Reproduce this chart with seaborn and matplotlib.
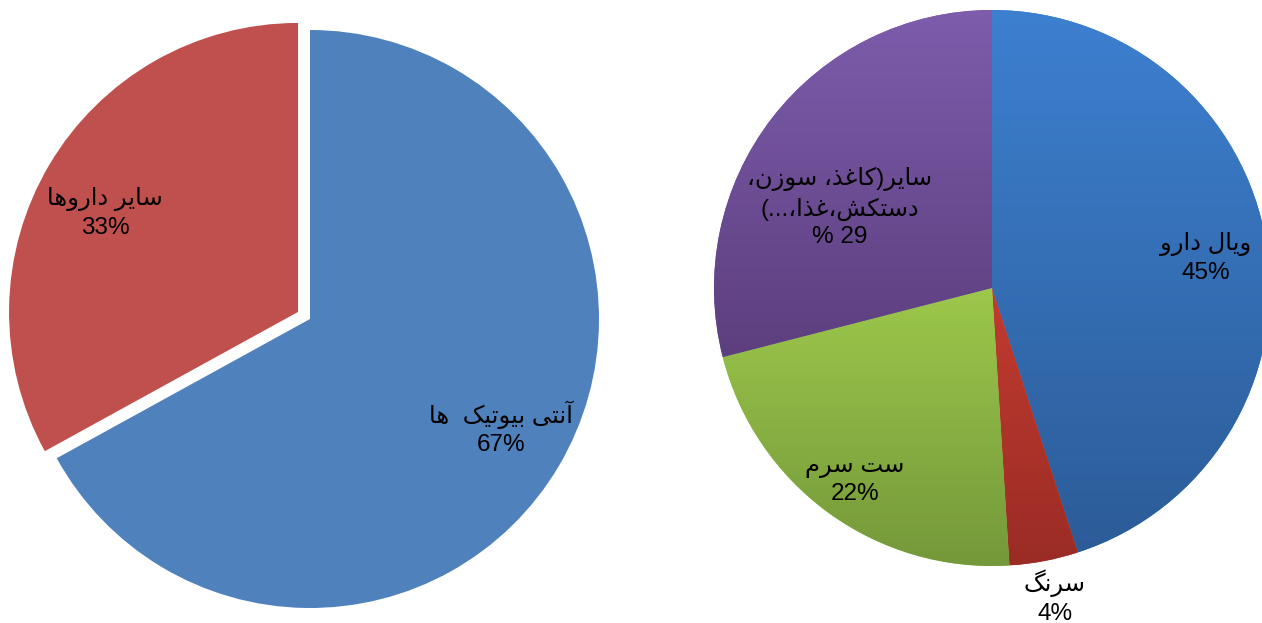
import numpy as np
import matplotlib
matplotlib.use("Agg")
import matplotlib.pyplot as plt
import seaborn as sns
from matplotlib.colors import LinearSegmentedColormap

# ---------------- data ----------------
left_labels = ["آنتی بیوتیک  ها", "سایر داروها"]
left_values = [67, 33]
left_pct = ["67%", "33%"]

right_labels = ["ویال دارو", "سرنگ", "ست سرم", "سایر(کاغذ، سوزن،\nدستکش،غذا،...)"]
right_values = [45, 4, 22, 29]
right_pct = ["45%", "4%", "22%", "% 29"]

# ---------------- styles ----------------
left_colors = ["#4F81BD", "#C0504D"]
left_explode = [0.0, 0.048]
left_label_dist = [0.76, 0.75]
left_label_rot = [0.8, 3.4]

right_top = ["#3D80D0", "#C23B30", "#9CC84B", "#7D5DAC"]
right_bot = ["#2C5C98", "#9A2C25", "#74983A", "#5D3E7E"]
right_label_dist = [0.775, 1.135, 0.85, 0.62]
right_label_rot = [-1.0, 0.7, 0.5, 10.0]

# --------------- simple Persian shaping ----------------
FORMS = {
    'ا': ('\uFE8D', '\uFE8E', None, None),
    'آ': ('\uFE81', '\uFE82', None, None),
    'ب': ('\uFE8F', '\uFE90', '\uFE91', '\uFE92'),
    'ت': ('\uFE95', '\uFE96', '\uFE97', '\uFE98'),
    'د': ('\uFEA9', '\uFEAA', None, None),
    'ذ': ('\uFEAB', '\uFEAC', None, None),
    'ر': ('\uFEAD', '\uFEAE', None, None),
    'ز': ('\uFEAF', '\uFEB0', None, None),
    'س': ('\uFEB1', '\uFEB2', '\uFEB3', '\uFEB4'),
    'ش': ('\uFEB5', '\uFEB6', '\uFEB7', '\uFEB8'),
    'غ': ('\uFECD', '\uFECE', '\uFECF', '\uFED0'),
    'ل': ('\uFEDD', '\uFEDE', '\uFEDF', '\uFEE0'),
    'م': ('\uFEE1', '\uFEE2', '\uFEE3', '\uFEE4'),
    'ن': ('\uFEE5', '\uFEE6', '\uFEE7', '\uFEE8'),
    'ه': ('\uFEE9', '\uFEEA', '\uFEEB', '\uFEEC'),
    'و': ('\uFEED', '\uFEEE', None, None),
    'ی': ('\uFBFC', '\uFBFD', '\uFBFE', '\uFBFF'),
    'ک': ('\uFB8E', '\uFB8F', '\uFB90', '\uFB91'),
    'گ': ('\uFB92', '\uFB93', '\uFB94', '\uFB95'),
}
MIRROR = {'(': ')', ')': '('}


def shape_line(s):
    out = []
    for i, c in enumerate(s):
        if c not in FORMS:
            out.append(MIRROR.get(c, c))
            continue
        prev = s[i - 1] if i > 0 else None
        nxt = s[i + 1] if i + 1 < len(s) else None
        jp = prev in FORMS and FORMS[prev][2] is not None
        jn = FORMS[c][2] is not None and nxt in FORMS
        if jp and jn:
            f = FORMS[c][3]
        elif jp:
            f = FORMS[c][1]
        elif jn:
            f = FORMS[c][2]
        else:
            f = FORMS[c][0]
        out.append(f)
    return "".join(reversed(out))


def rtl(s):
    return "\n".join(shape_line(l) for l in s.split("\n"))


# ---------------- figure ----------------
sns.set_theme(style="white")
plt.rcParams['font.family'] = ['Liberation Sans', 'DejaVu Sans']

W, H = 1262, 623
fig = plt.figure(figsize=(W / 100, H / 100), dpi=100)
fig.patch.set_facecolor("white")

FS = 17.5
LS = 1.33
HALF = 300


def make_axes(cx, cy_top, R):
    cy = H - cy_top
    ax = fig.add_axes([(cx - HALF) / W, (cy - HALF) / H, 2 * HALF / W, 2 * HALF / H])
    lim = HALF / R
    return ax, lim


def put_labels(ax, wedges, labels, pcts, dists, rots):
    for w, lab, pct, d, r in zip(wedges, labels, pcts, dists, rots):
        th = np.deg2rad((w.theta1 + w.theta2) / 2 + r)
        cx, cy = w.center
        ax.text(cx + d * np.cos(th), cy + d * np.sin(th), rtl(lab) + "\n" + pct,
                ha="center", va="center", fontsize=FS, color="black",
                linespacing=LS, zorder=10)


# Left pie
axL, limL = make_axes(310, 319, 289)
wedgesL, _ = axL.pie(left_values, colors=left_colors, startangle=90, counterclock=False,
                     explode=left_explode, radius=1.0,
                     wedgeprops=dict(linewidth=0))
put_labels(axL, wedgesL, left_labels, left_pct, left_label_dist, left_label_rot)
axL.set_xlim(-limL, limL)
axL.set_ylim(-limL, limL)
axL.set_aspect("equal")
axL.axis("off")

# Right pie
axR, limR = make_axes(992, 288, 278)
wedgesR, _ = axR.pie(right_values, colors=right_top, startangle=90, counterclock=False,
                     radius=1.0, wedgeprops=dict(linewidth=0))
for w, ct, cb in zip(wedgesR, right_top, right_bot):
    bb = w.get_path().get_extents()
    cmap = LinearSegmentedColormap.from_list("g", [cb, ct])
    im = axR.imshow(np.linspace(0, 1, 256).reshape(-1, 1), extent=(bb.x0, bb.x1, bb.y0, bb.y1),
                    origin="lower", cmap=cmap, aspect="auto", zorder=w.get_zorder() + 0.1,
                    interpolation="bilinear")
    im.set_clip_path(w)
put_labels(axR, wedgesR, right_labels, right_pct, right_label_dist, right_label_rot)
axR.set_xlim(-limR, limR)
axR.set_ylim(-limR, limR)
axR.set_aspect("equal")
axR.axis("off")

fig.savefig("out.png", dpi=100, facecolor="white")
